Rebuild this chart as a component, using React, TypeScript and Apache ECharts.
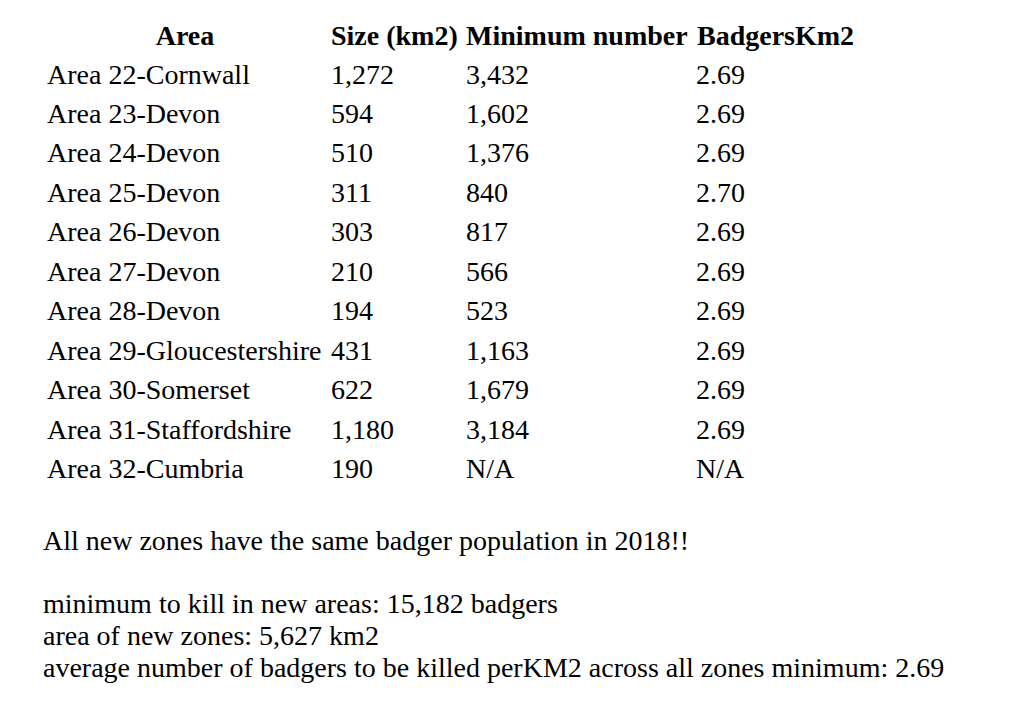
import React, { useEffect, useRef } from "react";
import * as echarts from "echarts";

const headers = ["Area", "Size (km2)", "Minimum number", "BadgersKm2"];
const areas = [
  "Area 22-Cornwall",
  "Area 23-Devon",
  "Area 24-Devon",
  "Area 25-Devon",
  "Area 26-Devon",
  "Area 27-Devon",
  "Area 28-Devon",
  "Area 29-Gloucestershire",
  "Area 30-Somerset",
  "Area 31-Staffordshire",
  "Area 32-Cumbria",
];
const sizes = [1272, 594, 510, 311, 303, 210, 194, 431, 622, 1180, 190];
const minNumbers: (number | null)[] = [3432, 1602, 1376, 840, 817, 566, 523, 1163, 1679, 3184, null];
const densities: (number | null)[] = [2.69, 2.69, 2.69, 2.7, 2.69, 2.69, 2.69, 2.69, 2.69, 2.69, null];
const notes = [
  "All new zones have the same badger population in 2018!!",
  "",
  "minimum to kill in new areas: 15,182 badgers",
  "area of new zones: 5,627 km2",
  "average number of badgers to be killed perKM2 across all zones minimum: 2.69",
];

const FONT = "'Liberation Serif', 'Times New Roman', serif";
const fmtInt = (v: number | null) => (v == null ? "N/A" : v.toLocaleString("en-US"));
const fmtDec = (v: number | null) => (v == null ? "N/A" : v.toFixed(2));

export default function App() {
  const ref = useRef<HTMLDivElement>(null);
  useEffect(() => {
    if (!ref.current) return;
    const chart = echarts.init(ref.current, null, { renderer: "svg" });
    const colX = [47, 331, 466, 696];
    const headerX = [185, 331, 466, 697];
    const headerY = 35;
    const rowY0 = 74;
    const rowH = 39.45;
    const els: any[] = [];
    headers.forEach((h, i) => {
      els.push({
        type: "text",
        x: headerX[i],
        y: headerY,
        style: {
          text: h,
          fill: "#000",
          font: `bold 28px ${FONT}`,
          textAlign: i === 0 ? "center" : "left",
          textVerticalAlign: "middle",
        },
      });
    });
    areas.forEach((a, r) => {
      const cells = [a, fmtInt(sizes[r]), fmtInt(minNumbers[r]), fmtDec(densities[r])];
      cells.forEach((c, i) => {
        els.push({
          type: "text",
          x: colX[i],
          y: rowY0 + r * rowH,
          style: {
            text: c,
            fill: "#000",
            font: `28px ${FONT}`,
            textAlign: "left",
            textVerticalAlign: "middle",
          },
        });
      });
    });
    const noteY = [540, 572, 603, 635, 667];
    notes.forEach((n, i) => {
      if (!n) return;
      els.push({
        type: "text",
        x: 43,
        y: noteY[i],
        style: {
          text: n,
          fill: "#000",
          font: `28px ${FONT}`,
          textAlign: "left",
          textVerticalAlign: "middle",
        },
      });
    });
    chart.setOption({
      animation: false,
      backgroundColor: "#fff",
      graphic: els,
    });
    return () => chart.dispose();
  }, []);
  return (
    <div
      ref={ref}
      style={{ position: "fixed", left: 0, top: 0, width: 1023, height: 726, background: "#fff" }}
    />
  );
}
